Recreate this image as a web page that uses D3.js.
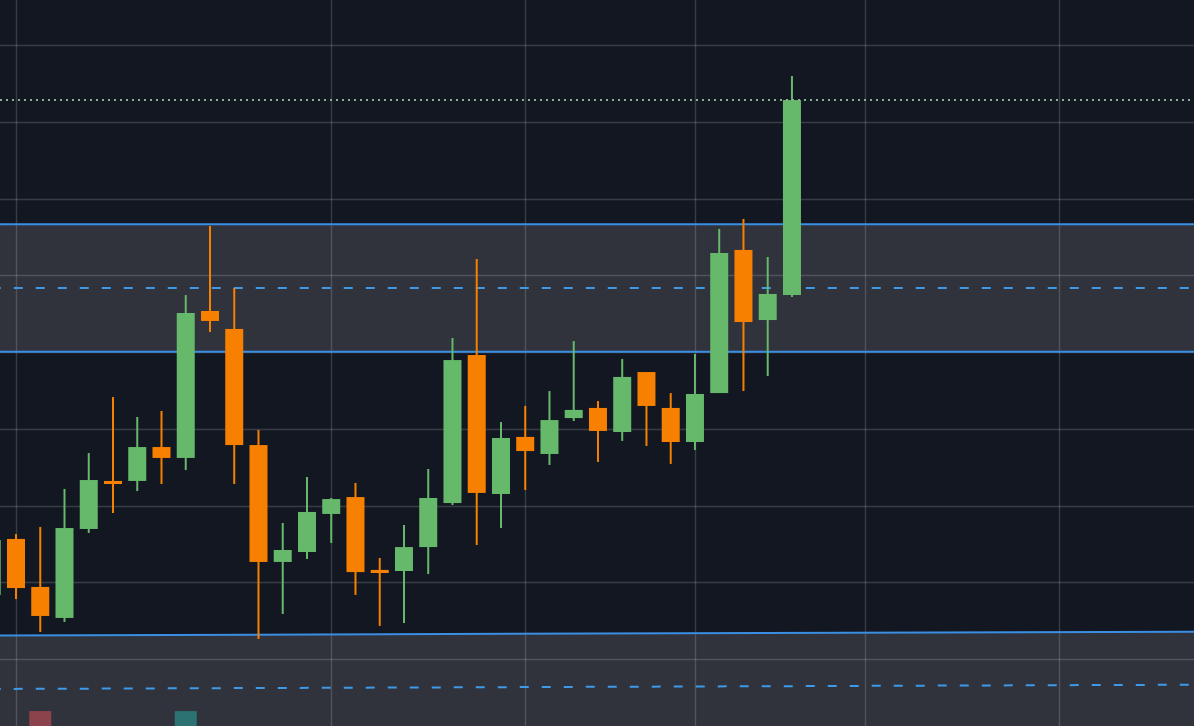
<!DOCTYPE html>
<html>
<head>
<meta charset="utf-8">
<script src="https://cdn.jsdelivr.net/npm/d3@7"></script>
<style>
html,body{margin:0;padding:0;background:#131722;overflow:hidden}
svg{display:block}
</style>
</head>
<body>
<svg id="chart" width="1194" height="726"></svg>
<script>
// ---- data ----
const candleIdx = [0,1,2,3,4,5,6,7,8,9,10,11,12,13,14,15,16,17,18,19,20,21,22,23,24,25,26,27,28,29,30,31,32,33];
const opens  = [10.417,10.782,10.469,10.267,10.847,11.160,11.160,11.381,11.310,12.268,12.151,11.394,10.632,10.697,10.945,11.055,10.580,10.573,10.729,11.016,11.981,11.075,11.447,11.336,11.570,11.636,11.479,11.870,11.636,11.414,11.733,12.666,12.209,12.372];
const highs  = [10.808,10.814,10.860,11.108,11.342,11.707,11.577,11.616,12.372,12.822,12.418,11.492,10.886,11.186,11.049,11.147,10.658,10.873,11.238,12.092,12.607,11.544,11.649,11.746,12.072,11.681,11.955,11.870,11.733,11.988,12.803,12.868,12.620,13.800];
const lows   = [10.397,10.390,10.175,10.241,10.821,10.951,11.094,11.140,11.231,12.131,11.140,10.130,10.293,10.651,10.756,10.417,10.215,10.234,10.553,11.003,10.742,10.853,11.101,11.264,11.551,11.284,11.421,11.388,11.271,11.362,11.733,11.746,11.844,12.359];
const closes = [10.775,10.462,10.280,10.853,11.166,11.140,11.381,11.310,12.255,12.203,11.394,10.632,10.710,10.958,11.042,10.566,10.560,10.729,11.049,11.948,11.082,11.440,11.355,11.557,11.623,11.486,11.838,11.649,11.414,11.727,12.646,12.196,12.379,13.643];

const priceGrid = [10.0,10.5,11.0,11.5,12.0,12.5,13.0,13.5,14.0];
const timeGridIdx = [1,14,22,29,36,44];

// zones: values at the left anchor index and the right anchor index
const zoneAnchorIdx   = [0, 50];
const zoneTopLeft     = [12.833, 10.153];
const zoneTopRight    = [12.833, 10.177];
const zoneBottomLeft  = [12.003, 9.455];
const zoneBottomRight = [12.003, 9.487];

const markerIdx    = [2, 8];
const markerPrice  = [9.660, 9.660];
const markerColors = ["#8c434c", "#2c7272"];

// ---- layout ----
const W = 1194, H = 726;
const svg = d3.select("#chart");
const x = d3.scaleLinear().domain([0.34, 49.58]).range([0, W]);
const y = d3.scaleLinear().domain([9.5626, 14.2953]).range([H, 0]);

const UP = "#66b96b", DOWN = "#f78000";
const bodyW = 18;

svg.append("rect").attr("width", W).attr("height", H).attr("fill", "#131722");

// zone fills
const zones = zoneTopLeft.map((t, k) => ({
  tl: t, tr: zoneTopRight[k], bl: zoneBottomLeft[k], br: zoneBottomRight[k]
}));
const xa = x(zoneAnchorIdx[0]), xb = x(zoneAnchorIdx[1]);
svg.append("g").selectAll("path").data(zones).join("path")
  .attr("d", z => `M${xa},${y(z.tl)}L${xb},${y(z.tr)}L${xb},${y(z.br)}L${xa},${y(z.bl)}Z`)
  .attr("fill", "#30323c");

// grid
const grid = svg.append("g").attr("stroke", "rgba(255,255,255,0.16)").attr("stroke-width", 1.4);
grid.selectAll("line.h").data(priceGrid).join("line").attr("class", "h")
  .attr("x1", 0).attr("x2", W)
  .attr("y1", d => Math.round(y(d)) + 0.5).attr("y2", d => Math.round(y(d)) + 0.5);
grid.selectAll("line.v").data(timeGridIdx).join("line").attr("class", "v")
  .attr("y1", 0).attr("y2", H)
  .attr("x1", d => Math.round(x(d)) + 0.5).attr("x2", d => Math.round(x(d)) + 0.5);

// zone lines
const zl = svg.append("g");
zl.selectAll("path.top").data(zones).join("path")
  .attr("d", z => `M${xa},${y(z.tl)}L${xb},${y(z.tr)}`)
  .attr("stroke", "#3a8fe3").attr("stroke-width", 2).attr("fill", "none");
zl.selectAll("path.bot").data(zones).join("path")
  .attr("d", z => `M${xa},${y(z.bl)}L${xb},${y(z.br)}`)
  .attr("stroke", "#3a8fe3").attr("stroke-width", 2).attr("fill", "none");
zl.selectAll("path.mid").data(zones).join("path")
  .attr("d", z => `M${xa},${y((z.tl + z.bl) / 2)}L${xb},${y((z.tr + z.br) / 2)}`)
  .attr("stroke", "#3d9ae8").attr("stroke-width", 2).attr("fill", "none")
  .attr("stroke-dasharray", "9,13");

// candles
const candles = candleIdx.map((i, k) => ({
  i, o: opens[k], h: highs[k], l: lows[k], c: closes[k]
}));
const cg = svg.append("g");
cg.selectAll("line.wick").data(candles).join("line").attr("class", "wick")
  .attr("x1", d => x(d.i)).attr("x2", d => x(d.i))
  .attr("y1", d => y(d.h)).attr("y2", d => y(d.l))
  .attr("stroke", d => d.c >= d.o ? UP : DOWN).attr("stroke-width", 2);
cg.selectAll("rect.body").data(candles).join("rect").attr("class", "body")
  .attr("x", d => x(d.i) - bodyW / 2).attr("width", bodyW)
  .attr("y", d => y(Math.max(d.o, d.c)))
  .attr("height", d => Math.max(2, Math.abs(y(d.o) - y(d.c))))
  .attr("fill", d => d.c >= d.o ? UP : DOWN);

// last price line
svg.append("line")
  .attr("x1", 0).attr("x2", W)
  .attr("y1", y(closes[closes.length - 1])).attr("y2", y(closes[closes.length - 1]))
  .attr("stroke", "#84b48c").attr("stroke-width", 2).attr("stroke-dasharray", "2,4");

// markers at the bottom
svg.append("g").selectAll("rect").data(markerIdx).join("rect")
  .attr("x", (d, k) => x(d) - 11).attr("width", 22)
  .attr("y", (d, k) => y(markerPrice[k])).attr("height", 24)
  .attr("fill", (d, k) => markerColors[k]);
</script>
</body>
</html>
